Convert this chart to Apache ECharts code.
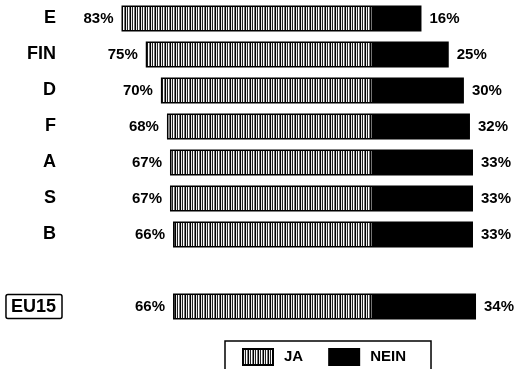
<!DOCTYPE html>
<html><head><meta charset="utf-8">
<script src="https://cdn.jsdelivr.net/npm/echarts@6/dist/echarts.min.js"></script>
<style>html,body{margin:0;padding:0;background:#fff}#c{width:516px;height:369px}</style>
</head><body><div id="c"></div>
<script>
const categories = ['E','FIN','D','F','A','S','B','','EU15'];
const jaValues   = [83, 75, 70, 68, 67, 67, 66, null, 66];
const neinValues = [16, 25, 30, 32, 33, 33, 33, null, 34];
const seriesNames = ['JA','NEIN'];

// vertical hatch pattern for JA
const pc = document.createElement('canvas');
pc.width = 5; pc.height = 4;
const px = pc.getContext('2d');
const cols = ['#000','#e8e8e8','#222','#fff','#777'];
cols.forEach((c,i)=>{ px.fillStyle=c; px.fillRect(i,0,1,4); });
const hatch = {image: pc, repeat: 'repeat'};

const FONT = '"Liberation Sans", Arial, Helvetica, sans-serif';
const chart = echarts.init(document.getElementById('c'), null, {renderer:'canvas'});
chart.setOption({
  animation: false,
  backgroundColor: '#fff',
  grid: {left: 70, right: 21.8, top: 0.5, height: 324},
  xAxis: {type:'value', min:-100, max:40, show:false},
  yAxis: {
    type:'category', inverse:true, data: categories,
    axisLine:{show:false}, axisTick:{show:false}, splitLine:{show:false},
    axisLabel:{
      margin: 8,
      formatter: v => v === 'EU15' ? '{b|' + v + '}' : '{n|' + v + '}',
      rich: {
        n: {fontFamily: FONT, fontWeight:'bold', fontSize:18, color:'#000', padding:[0,6,0,0]},
        b: {fontFamily: FONT, fontWeight:'bold', fontSize:18, color:'#000',
            borderColor:'#000', borderWidth:1.5, borderRadius:2, padding:[4,6,2,5]}
      }
    }
  },
  legend: {
    data: seriesNames, left: 225, top: 341, orient:'horizontal',
    itemWidth: 30, itemHeight: 16, itemGap: 25, icon: 'rect',
    borderColor:'#000', borderWidth:1.5, padding:[7,25,14,17],
    textStyle:{fontFamily: FONT, fontWeight:'bold', fontSize:15, color:'#000', padding:[0,0,0,6]}
  },
  series: [
    {
      name: seriesNames[0], type:'bar', stack:'t', barWidth: 26,
      data: jaValues.map(v => v == null ? null : -v),
      itemStyle: {color: hatch, borderColor:'#000', borderWidth:1.5},
      label: {show:true, position:'left', distance:8,
        formatter: p => Math.abs(p.value) + '%',
        fontFamily: FONT, fontWeight:'bold', fontSize:15, color:'#000'}
    },
    {
      name: seriesNames[1], type:'bar', stack:'t', barWidth: 26,
      data: neinValues,
      itemStyle: {color:'#000', borderColor:'#000', borderWidth:1.5},
      label: {show:true, position:'right', distance:8,
        formatter: p => p.value + '%',
        fontFamily: FONT, fontWeight:'bold', fontSize:15, color:'#000'}
    }
  ]
});
</script></body></html>
